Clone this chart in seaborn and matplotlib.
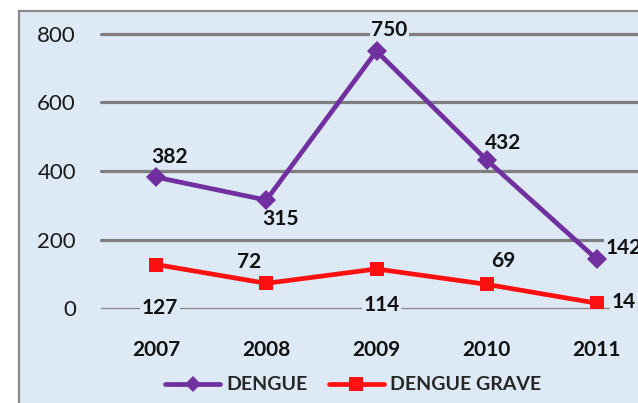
import matplotlib
matplotlib.use("Agg")
import matplotlib.pyplot as plt
import seaborn as sns
import pandas as pd
from matplotlib.patches import Rectangle
from matplotlib.lines import Line2D

years = ["2007", "2008", "2009", "2010", "2011"]
dengue = [382, 315, 750, 432, 142]
dengue_grave = [127, 72, 114, 69, 14]
series_names = ["DENGUE", "DENGUE GRAVE"]
y_ticks = [0, 200, 400, 600, 800]

# label offsets in pixels (dx, dy) relative to the point
off_dengue = [(13, 20), (14, -19), (13, 21), (16, 17), (9, 11)]
off_grave = [(4, -43), (-17, 21), (5, -36), (17, 23), (15, 1)]

bg = "#dde9f5"
purple = "#7030a0"
red = "#ff1010"

sns.set_theme(style="white")
plt.rcParams["font.family"] = ["Lato", "DejaVu Sans"]

fig = plt.figure(figsize=(6.38, 4.03), dpi=100)
fig.patch.set_facecolor("white")

# chart frame (cropped on right & bottom)
fig.patches.append(Rectangle((19 / 638, -0.05), 1.2, (403 - 11) / 403 + 0.05,
                             transform=fig.transFigure, facecolor=bg,
                             edgecolor="#8a8a8a", linewidth=1.6, zorder=-10))

ax = fig.add_axes([101 / 638, 95 / 403, 551 / 638, 274 / 403])
ax.set_facecolor("none")

df = pd.DataFrame({
    "x": list(range(len(years))) * 2,
    "value": dengue + dengue_grave,
    "serie": [series_names[0]] * len(years) + [series_names[1]] * len(years),
})

sns.lineplot(data=df, x="x", y="value", hue="serie", style="serie",
             palette={series_names[0]: purple, series_names[1]: red},
             markers={series_names[0]: "D", series_names[1]: "s"},
             dashes=False, linewidth=3.4, markersize=10, markeredgewidth=0,
             ax=ax, legend=False, zorder=3)

ax.set_xlim(-0.5, 4.5)
ax.set_ylim(0, 800)
for yv in y_ticks[1:]:
    ax.axhline(yv, color="#7e7e7e", linewidth=2.3, zorder=1, clip_on=False)
ax.axhline(0, color="#8c8c8c", linewidth=1.0, zorder=1, clip_on=False)

for s in ax.spines.values():
    s.set_visible(False)
ax.set_yticks(y_ticks)
ax.set_yticklabels([str(v) for v in y_ticks])
ax.set_xticks(range(len(years)))
ax.set_xticklabels(years, fontweight="bold")
ax.tick_params(axis="y", length=0, pad=18, labelsize=16, labelcolor="#1a1a1a")
ax.tick_params(axis="x", length=0, pad=23, labelsize=15, labelcolor="#111111")
ax.set_xlabel("")
ax.set_ylabel("")

def label(vals, offs, ha_last="left"):
    for i, (v, (dx, dy)) in enumerate(zip(vals, offs)):
        ha = "center" if i < len(vals) - 1 else ha_last
        ax.annotate(str(v), xy=(i, v), xytext=(dx, dy), textcoords="offset pixels",
                    ha=ha, va="center", fontsize=15, fontweight="bold",
                    color="#111111", zorder=2, annotation_clip=False,
                    bbox=dict(boxstyle="square,pad=0.08", facecolor=bg, edgecolor="none"))

label(dengue, off_dengue)
label(dengue_grave, off_grave)

handles = [
    Line2D([], [], color=purple, linewidth=3.4, marker="D", markersize=8, markeredgewidth=0),
    Line2D([], [], color=red, linewidth=3.4, marker="s", markersize=10, markeredgewidth=0),
]
fig.legend(handles, series_names, loc="center", bbox_to_anchor=(353 / 638, 18 / 403),
           ncol=2, frameon=False, handlelength=2.85, handletextpad=0.3,
           columnspacing=1.1, prop={"size": 14, "weight": "bold"})

fig.savefig("out.png", dpi=100)
